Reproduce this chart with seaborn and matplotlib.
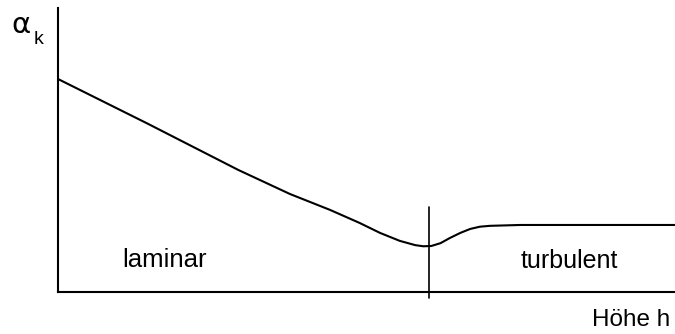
import numpy as np
import pandas as pd
import matplotlib
matplotlib.use("Agg")
import matplotlib.pyplot as plt
import seaborn as sns

sns.set_theme(style="white")
plt.rcParams['font.family'] = ['Liberation Sans', 'DejaVu Sans']

# Höhe h (0-100) und Wärmeübergangskoeffizient alpha_k (relative Einheiten)
hoehe = [0.0, 14.6, 29.2, 37.6, 44.1, 48.9, 52.2, 55.4, 57.9, 59.2, 60.5,
         62.0, 63.5, 65.2, 66.8, 68.4, 70.0, 74.9, 100.0]
alpha_k = [75.0, 59.2, 43.0, 34.5, 28.9, 24.3, 20.8, 18.0, 16.5, 16.1, 16.2,
           17.2, 19.0, 20.8, 22.2, 23.0, 23.3, 23.6, 23.6]

h_umschlag = 60.1          # Umschlag laminar -> turbulent
umschlag_bereich = [-2.1, 29.9]

df = pd.DataFrame({'h': hoehe, 'alpha': alpha_k})

fig = plt.figure(figsize=(6.75, 3.34), dpi=100)
ax = fig.add_axes([58 / 675, 42 / 334, 617 / 675, 284 / 334])

sns.lineplot(data=df, x='h', y='alpha', color='black', linewidth=1.5,
             ax=ax, clip_on=False)
ax.plot([h_umschlag, h_umschlag], umschlag_bereich, color='black',
        linewidth=1.2, clip_on=False)

ax.set_xlim(0, 100)
ax.set_ylim(0, 100)
ax.set_xticks([])
ax.set_yticks([])
ax.set_xlabel('')
ax.set_ylabel('')
sns.despine(ax=ax, top=True, right=True)
for side in ['left', 'bottom']:
    ax.spines[side].set_color('black')
    ax.spines[side].set_linewidth(1.5)

ax.text(10.4, 8.8, 'laminar', fontsize=18.5, color='black')
ax.text(74.9, 8.5, 'turbulent', fontsize=18, color='black')
ax.text(86.5, -12.0, 'Höhe h', fontsize=17.5, color='black', clip_on=False)
ax.text(-7.6, 91.2, 'α', fontsize=21, color='black', clip_on=False,
        family=['DejaVu Sans'])
ax.text(-4.0, 87.5, 'k', fontsize=14, color='black', clip_on=False)

fig.savefig('out.png', dpi=100)
